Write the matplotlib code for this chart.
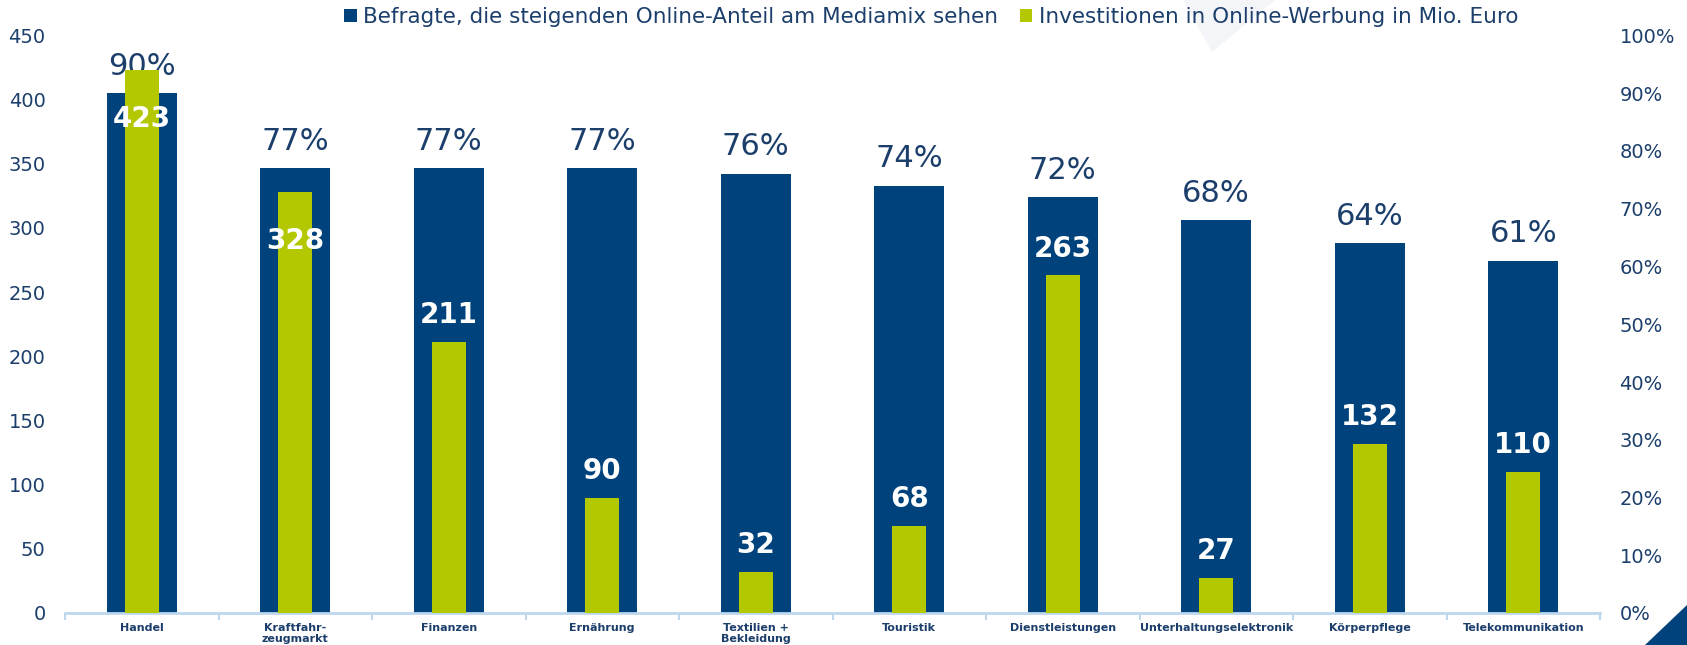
import matplotlib
matplotlib.use("Agg")
import matplotlib.pyplot as plt
from matplotlib.patches import Patch, Polygon
import numpy as np

# ── Data ──────────────────────────────────────────────────────────────
categories = ["Handel", "Kraftfahr-\nzeugmarkt", "Finanzen", "Ernährung",
              "Textilien +\nBekleidung", "Touristik", "Dienstleistungen",
              "Unterhaltungselektronik", "Körperpflege", "Telekommunikation"]
befragte_pct = [90, 77, 77, 77, 76, 74, 72, 68, 64, 61]
invest_mio = [423, 328, 211, 90, 32, 68, 263, 27, 132, 110]

left_ticks = [0, 50, 100, 150, 200, 250, 300, 350, 400, 450]
right_ticks = [0, 10, 20, 30, 40, 50, 60, 70, 80, 90, 100]

BLUE = "#00437C"
GREEN = "#B3C800"
NAVY = "#1B3E6B"
AXIS = "#BDD7EE"

plt.rcParams["font.family"] = ["DejaVu Sans"]

W, H = 1687, 645
fig = plt.figure(figsize=(W / 100, H / 100), dpi=100)
fig.patch.set_facecolor("white")

# faint background decoration at the top and corner triangle
fig.patches.append(Polygon([(1183 / W, 1.0), (1275 / W, 1.0), (1212 / W, 1 - 52 / H)],
                           closed=True, transform=fig.transFigure,
                           facecolor="#F4F5F8", edgecolor="none", zorder=0))
fig.patches.append(Polygon([(1645 / W, 0), (1.0, 0), (1.0, 40 / H)],
                           closed=True, transform=fig.transFigure,
                           facecolor=BLUE, edgecolor="none", zorder=0))

ax = fig.add_axes([65 / W, 32 / H, 1535 / W, 577.5 / H])
ax2 = ax.twinx()
ax.set_zorder(ax2.get_zorder() + 1)
ax.patch.set_visible(False)

x = np.arange(len(categories))

# blue: share of respondents (right axis)
ax2.bar(x, befragte_pct, width=0.455, color=BLUE, zorder=2)
# green: investments (left axis)
ax.bar(x, invest_mio, width=0.22, color=GREEN, zorder=3)

ax.set_xlim(-0.5, len(categories) - 0.5)
ax.set_ylim(0, 450)
ax2.set_ylim(0, 100)

for i, p in enumerate(befragte_pct):
    ax2.text(i, p + 4.7, f"{p}%", ha="center", va="center",
             fontsize=22, color=NAVY, zorder=5)

# value labels sit above the green bar, or inside it when the
# percentage label would collide
for i, (v, p) in enumerate(zip(invest_mio, befragte_pct)):
    blue_top = p * 4.5
    y = v + 21 if v + 40 < blue_top else v - 38
    ax.text(i, y, str(v), ha="center", va="center", fontsize=20,
            fontweight="bold", color="white", zorder=6)

# axes styling
for a in (ax, ax2):
    for s in a.spines.values():
        s.set_visible(False)
ax.spines["bottom"].set_visible(True)
ax.spines["bottom"].set_color(AXIS)
ax.spines["bottom"].set_linewidth(2)

ax.set_yticks(left_ticks)
ax.set_yticklabels([str(t) for t in left_ticks])
ax.tick_params(axis="y", length=0, pad=14, labelsize=14, labelcolor=NAVY)

ax2.set_yticks(right_ticks)
ax2.set_yticklabels([f"{t}%" for t in right_ticks])
ax2.tick_params(axis="y", length=0, pad=14, labelsize=14, labelcolor=NAVY)

ax.set_xticks(x)
ax.set_xticklabels(categories, fontsize=8, fontweight="bold", color=NAVY,
                   linespacing=1.1)
ax.tick_params(axis="x", which="major", length=0, pad=7)
ax.set_xticks(np.arange(-0.5, len(categories)), minor=True)
ax.tick_params(axis="x", which="minor", length=5, width=1.5, color=AXIS)
ax2.tick_params(axis="x", which="both", length=0, labelbottom=False)

handles = [Patch(facecolor=BLUE, label="Befragte, die steigenden Online-Anteil am Mediamix sehen"),
           Patch(facecolor=GREEN, label="Investitionen in Online-Werbung in Mio. Euro")]
leg = fig.legend(handles=handles, loc="center", bbox_to_anchor=(931 / W, 1 - 17 / H),
                 ncol=2, frameon=False, fontsize=15.5, handlelength=0.6,
                 handleheight=0.6, handletextpad=0.3, columnspacing=1.0)
for t in leg.get_texts():
    t.set_color(NAVY)

fig.savefig("out.png", dpi=100, facecolor="white")
